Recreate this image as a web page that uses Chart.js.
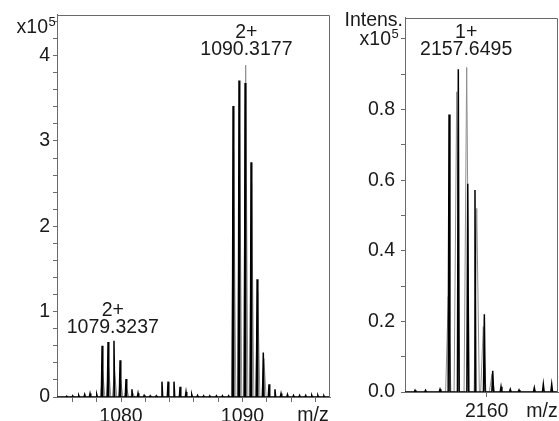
<!DOCTYPE html>
<html>
<head>
<meta charset="utf-8">
<script src="https://cdn.jsdelivr.net/npm/chart.js@4"></script>
<style>
  body { margin: 0; background: #fff; }
  #leftChart { position: absolute; left: 0; top: 0; }
  #rightChart { position: absolute; left: 340px; top: 0; }
</style>
</head>
<body>
<canvas id="leftChart" width="340" height="421"></canvas>
<canvas id="rightChart" width="219" height="421"></canvas>
<script>
// ---- left panel: 2+ ions (intensity x10^5) ----
const leftMeasuredMz = [1075.53, 1076.02, 1076.52, 1077.01, 1077.45, 1078.0,
  1078.44, 1078.93, 1079.42, 1079.92, 1080.41, 1080.9, 1081.4,
  1081.9, 1082.4, 1082.9,
  1083.37, 1083.87, 1084.36, 1084.86, 1085.35,
  1085.82, 1086.3, 1086.8, 1087.3, 1087.85, 1088.35, 1088.86,
  1089.22, 1089.71, 1090.21, 1090.7, 1091.2, 1091.71,
  1092.18, 1092.67, 1093.17, 1093.7, 1094.2, 1094.7, 1095.2, 1095.7, 1096.2, 1096.7];
const leftMeasuredInt = [0.01, 0.015, 0.02, 0.03, 0.04, 0.03,
  0.6, 0.645, 0.66, 0.43, 0.21, 0.09, 0.045,
  0.02, 0.015, 0.015,
  0.18, 0.18, 0.18, 0.12, 0.06,
  0.03, 0.02, 0.015, 0.015, 0.015, 0.015, 0.015,
  3.41, 3.71, 3.68, 2.75, 1.38, 0.52,
  0.15, 0.09, 0.04, 0.03, 0.02, 0.02, 0.02, 0.02, 0.02, 0.015];
const leftSimMz = [1078.49, 1078.98, 1079.47, 1079.97, 1080.46, 1080.95,
  1089.27, 1089.76, 1090.26, 1090.75, 1091.25, 1091.76];
const leftSimInt = [0.3, 0.35, 0.3, 0.2, 0.1, 0.05,
  2.9, 3.08, 3.89, 2.51, 1.23, 0.45];
const leftXRange = [1074.73, 1097.2];
const leftYRange = [0, 4.48];
const leftXTicks = [1076, 1078, 1080, 1082, 1084, 1086, 1088, 1090, 1092, 1094, 1096];
const leftXLabeled = [1080, 1090];
const leftYTicks = [0, 0.2, 0.4, 0.6, 0.8, 1, 1.2, 1.4, 1.6, 1.8, 2, 2.2, 2.4, 2.6, 2.8,
  3, 3.2, 3.4, 3.6, 3.8, 4, 4.2, 4.4];
const leftYLabeled = [0, 1, 2, 3, 4];
const leftPeakLabels = [["2+", "1079.3237"], ["2+", "1090.3177"]];

// ---- right panel: 1+ ion ----
const rightMeasuredMz = [2151.8, 2153.0, 2154.66, 2155.69, 2156.75, 2157.83, 2158.66, 2159.73,
  2160.69, 2161.64, 2162.7, 2163.7, 2165.45, 2166.48, 2167.44];
const rightMeasuredInt = [0.005, 0.005, 0.008, 0.786, 0.914, 0.59, 0.572, 0.22,
  0.06, 0.015, 0.008, 0.006, 0.012, 0.022, 0.022];
const rightSimMz = [2155.6, 2156.57, 2157.71, 2158.86, 2159.61, 2160.6];
const rightSimInt = [0.27, 0.85, 0.919, 0.52, 0.185, 0.05];
const rightXRange = [2150.65, 2168.16];
const rightYRange = [0, 1.06];
const rightXTicks = [2160];
const rightXLabeled = [2160];
const rightYTicks = [0, 0.1, 0.2, 0.3, 0.4, 0.5, 0.6, 0.7, 0.8, 0.9, 1.0];
const rightYLabeled = [0, 0.2, 0.4, 0.6, 0.8];
const rightPeakLabels = [["1+", "2157.6495"]];

const FONT = '"Liberation Sans", Arial, sans-serif';
const FONT_SIZE = 19.5;
const AXIS_COLOR = "#6a6a6a";
const TEXT_COLOR = "#1a1a1a";

// turn a peak list into a line profile (baseline - apex - baseline)
function profile(mz, inten, halfWidth, range) {
  const pts = [{ x: range[0], y: 0 }];
  mz.forEach((m, i) => {
    pts.push({ x: m - halfWidth, y: 0 }, { x: m, y: inten[i] }, { x: m + halfWidth, y: 0 });
  });
  pts.push({ x: range[1], y: 0 });
  return pts;
}

function setTicks(values) {
  return (scale) => {
    scale.ticks = values.map((v) => ({ value: v }));
  };
}

// frame box, unit label and peak annotations
function annotate(opts) {
  return {
    id: "annotate",
    afterDraw(chart) {
      const { ctx, chartArea: a, scales } = chart;
      ctx.save();
      ctx.strokeStyle = AXIS_COLOR;
      ctx.lineWidth = 1;
      ctx.beginPath();
      ctx.moveTo(a.left, Math.round(a.top) + 0.5);
      ctx.lineTo(Math.round(a.right) - 0.5, Math.round(a.top) + 0.5);
      ctx.lineTo(Math.round(a.right) - 0.5, a.bottom);
      ctx.stroke();

      ctx.fillStyle = TEXT_COLOR;
      ctx.textBaseline = "middle";
      ctx.font = FONT_SIZE + "px " + FONT;

      // peak labels, centred over their m/z
      opts.peaks.forEach(([charge, mz], i) => {
        const x = scales.x.getPixelForValue(parseFloat(mz));
        const y = opts.peakY[i];
        ctx.textAlign = "center";
        ctx.fillText(charge, x, y);
        ctx.fillText(mz, x, y + 17);
      });

      // x axis unit
      ctx.textAlign = "center";
      ctx.fillText("m/z", opts.mzX, opts.mzY);

      // intensity unit
      if (opts.intens) {
        ctx.textAlign = "right";
        ctx.fillText("Intens.", opts.intens[0], opts.intens[1]);
      }
      ctx.textAlign = "right";
      ctx.fillText("x10", opts.unit[0], opts.unit[1]);
      ctx.textAlign = "left";
      ctx.font = "13px " + FONT;
      ctx.fillText("5", opts.unit[0] + 0.5, opts.unit[1] - 6);
      ctx.restore();
    },
  };
}

function makeChart(id, d) {
  return new Chart(document.getElementById(id), {
    type: "line",
    data: {
      datasets: [
        {
          label: "measured",
          data: profile(d.mz, d.int, d.blackHalf, d.xRange),
          borderColor: "#000",
          borderWidth: 1.5,
          pointRadius: 0,
          tension: 0,
          order: 0,
        },
        {
          label: "simulated",
          data: profile(d.simMz, d.simInt, d.grayHalf, d.xRange),
          borderColor: "#8f8f8f",
          borderWidth: 1,
          pointRadius: 0,
          tension: 0,
          order: 1,
        },
      ],
    },
    options: {
      responsive: false,
      animation: false,
      layout: { padding: d.padding },
      plugins: { legend: { display: false }, tooltip: { enabled: false } },
      scales: {
        x: {
          type: "linear",
          bounds: "data",
          min: d.xRange[0],
          max: d.xRange[1],
          afterBuildTicks: setTicks(d.xTicks),
          afterFit: (s) => { s.height = d.xHeight; },
          grid: { drawOnChartArea: false, tickLength: 5, color: AXIS_COLOR },
          border: { color: AXIS_COLOR, width: 1 },
          ticks: {
            autoSkip: false,
            maxRotation: 0,
            padding: d.xPad,
            color: TEXT_COLOR,
            font: { family: FONT, size: FONT_SIZE },
            callback: (v) => (d.xLabeled.includes(v) ? String(v) : ""),
          },
        },
        y: {
          type: "linear",
          bounds: "data",
          min: d.yRange[0],
          max: d.yRange[1],
          afterBuildTicks: setTicks(d.yTicks),
          afterFit: (s) => { s.width = d.yWidth; },
          grid: { drawOnChartArea: false, tickLength: 4, color: AXIS_COLOR },
          border: { color: AXIS_COLOR, width: 1 },
          ticks: {
            autoSkip: false,
            padding: d.yPad,
            color: TEXT_COLOR,
            font: { family: FONT, size: FONT_SIZE },
            callback: (v) => (d.yLabeled.includes(v) ? d.yFormat(v) : ""),
          },
        },
      },
    },
    plugins: [annotate(d.notes)],
  });
}

makeChart("leftChart", {
  mz: leftMeasuredMz, int: leftMeasuredInt, simMz: leftSimMz, simInt: leftSimInt,
  blackHalf: 0.06, grayHalf: 0.18,
  xRange: leftXRange, yRange: leftYRange, xTicks: leftXTicks, yTicks: leftYTicks,
  xLabeled: leftXLabeled, yLabeled: leftYLabeled, yFormat: (v) => String(v),
  padding: { top: 13, right: 10, left: 0, bottom: 0 }, xHeight: 24, yWidth: 57, yPad: 3, xPad: 3,
  notes: { peaks: leftPeakLabels, peakY: [311, 33], mzX: 313, mzY: 416, unit: [48, 28] },
});

makeChart("rightChart", {
  mz: rightMeasuredMz, int: rightMeasuredInt, simMz: rightSimMz, simInt: rightSimInt,
  blackHalf: 0.1, grayHalf: 0.3,
  xRange: rightXRange, yRange: rightYRange, xTicks: rightXTicks, yTicks: rightYTicks,
  xLabeled: rightXLabeled, yLabeled: rightYLabeled, yFormat: (v) => v.toFixed(1),
  padding: { top: 12, right: 1, left: 0, bottom: 0 }, xHeight: 29, yWidth: 65, yPad: 6, xPad: 3,
  notes: { peaks: rightPeakLabels, peakY: [33], mzX: 202, mzY: 412, unit: [51, 40], intens: [63, 21] },
});
</script>
</body>
</html>
